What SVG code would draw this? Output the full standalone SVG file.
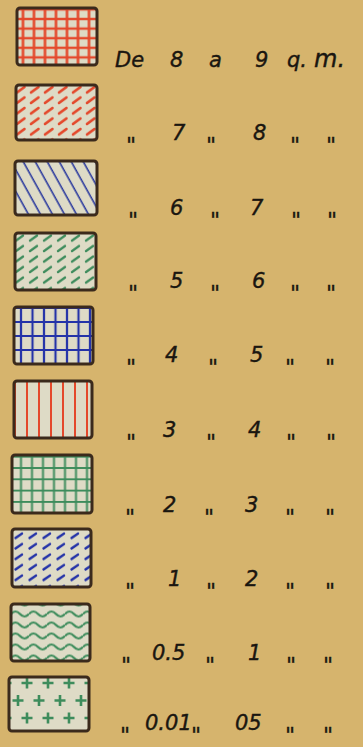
<svg xmlns="http://www.w3.org/2000/svg" width="363" height="747" viewBox="0 0 363 747">
<style>
.box{stroke:#3b2a1c;stroke-width:3}
.t{font-family:"DejaVu Sans","Liberation Sans",sans-serif;font-style:italic;font-size:21px;fill:#1a1610;stroke:#1a1610;stroke-width:0.4}
.d{font-family:"DejaVu Sans","Liberation Sans",sans-serif;font-style:italic;font-size:22px;fill:#1a1610;stroke:#1a1610;stroke-width:0.3}
</style>
<defs>
<pattern id="p1" patternUnits="userSpaceOnUse" x="17.5" y="14.2" width="11" height="9.6"><rect width="11" height="9.6" fill="#dedbc6"/><path d="M5.5 0V9.6M0 4.8H11" stroke="#e4492c" stroke-width="2.6"/></pattern>
<pattern id="p2" patternUnits="userSpaceOnUse" x="14" y="84" width="14" height="10.5"><rect width="14" height="10.5" fill="#dedbc6"/><path d="M3 8.5L10.5 3" stroke="#e4492c" stroke-width="2.6" stroke-linecap="round"/></pattern>
<pattern id="p3" patternUnits="userSpaceOnUse" width="10.5" height="10" patternTransform="rotate(-29)"><rect width="10.5" height="10" fill="#dedbc6"/><path d="M5 0V10" stroke="#2b3a9e" stroke-width="1.6"/></pattern>
<pattern id="p4" patternUnits="userSpaceOnUse" x="13" y="232" width="14" height="10.5"><rect width="14" height="10.5" fill="#dedbc6"/><path d="M3 8.5L10 3.5" stroke="#3d8c5c" stroke-width="2.4" stroke-linecap="round"/></pattern>
<pattern id="p5" patternUnits="userSpaceOnUse" x="15.25" y="315" width="11.5" height="14"><rect width="11.5" height="14" fill="#dedbc6"/><path d="M5.75 0V14M0 7H11.5" stroke="#2433a8" stroke-width="2.2"/></pattern>
<pattern id="p6" patternUnits="userSpaceOnUse" x="21" y="0" width="12" height="20"><rect width="12" height="20" fill="#dedbc6"/><path d="M6 0V20" stroke="#e4492c" stroke-width="2"/></pattern>
<pattern id="p7" patternUnits="userSpaceOnUse" x="15.5" y="462.35" width="11" height="11.3"><rect width="11" height="11.3" fill="#dedbc6"/><path d="M5.5 0V11.3M0 5.65H11" stroke="#3d8c5c" stroke-width="2"/></pattern>
<pattern id="p8" patternUnits="userSpaceOnUse" x="12" y="530" width="14" height="10.5"><rect width="14" height="10.5" fill="#dedbc6"/><path d="M3.5 8L10 3.5" stroke="#2433a8" stroke-width="2.4" stroke-linecap="round"/></pattern>
<pattern id="p9" patternUnits="userSpaceOnUse" x="11" y="608.5" width="18" height="11"><rect width="18" height="11" fill="#dedbc6"/><path d="M0 5.5Q4.5 0.5 9 5.5T18 5.5" fill="none" stroke="#3d8c5c" stroke-width="2.2"/></pattern>
<pattern id="p10" patternUnits="userSpaceOnUse" x="12" y="675" width="21" height="35"><rect width="21" height="35" fill="#dedbc6"/><path d="M15 2.5V13.5M9.5 8H20.5M6 20V31M0.5 25.5H11.5" stroke="#3d8c5c" stroke-width="2.6"/></pattern>
</defs>
<rect width="363" height="747" fill="#d6b46d"/>
<g id="n1"><rect class="box" x="17" y="8" width="80" height="57" rx="3" fill="url(#p1)"/>
<text class="t" y="67"><tspan x="115">De</tspan><tspan x="170">8</tspan><tspan x="209">a</tspan><tspan x="255">9</tspan><tspan x="287">q.</tspan><tspan x="314" font-size="24">m.</tspan></text></g>
<g id="n2"><rect class="box" x="16" y="85" width="81" height="55" rx="3" fill="url(#p2)"/>
<text class="t" y="140"><tspan x="172">7</tspan><tspan x="253">8</tspan></text>
<text class="d" y="153"><tspan x="126">"</tspan><tspan x="206">"</tspan><tspan x="290">"</tspan><tspan x="326">"</tspan></text></g>
<g id="n3"><rect class="box" x="15" y="161" width="82" height="54" rx="3" fill="url(#p3)"/>
<text class="t" y="215"><tspan x="170">6</tspan><tspan x="250">7</tspan></text>
<text class="d" y="228"><tspan x="128">"</tspan><tspan x="210">"</tspan><tspan x="291">"</tspan><tspan x="327">"</tspan></text></g>
<g id="n4"><rect class="box" x="15" y="233" width="81" height="57" rx="3" fill="url(#p4)"/>
<text class="t" y="288"><tspan x="170">5</tspan><tspan x="252">6</tspan></text>
<text class="d" y="301"><tspan x="128">"</tspan><tspan x="210">"</tspan><tspan x="290">"</tspan><tspan x="326">"</tspan></text></g>
<g id="n5"><rect class="box" x="14" y="307" width="79" height="57" rx="3" fill="url(#p5)"/>
<text class="t" y="362"><tspan x="165">4</tspan><tspan x="250">5</tspan></text>
<text class="d" y="375"><tspan x="126">"</tspan><tspan x="208">"</tspan><tspan x="285">"</tspan><tspan x="325">"</tspan></text></g>
<g id="n6"><rect class="box" x="14" y="381" width="78" height="57" rx="3" fill="url(#p6)"/>
<text class="t" y="437"><tspan x="163">3</tspan><tspan x="248">4</tspan></text>
<text class="d" y="450"><tspan x="126">"</tspan><tspan x="206">"</tspan><tspan x="286">"</tspan><tspan x="326">"</tspan></text></g>
<g id="n7"><rect class="box" x="12" y="455" width="80" height="58" rx="3" fill="url(#p7)"/>
<text class="t" y="512"><tspan x="163">2</tspan><tspan x="245">3</tspan></text>
<text class="d" y="525"><tspan x="125">"</tspan><tspan x="204">"</tspan><tspan x="285">"</tspan><tspan x="325">"</tspan></text></g>
<g id="n8"><rect class="box" x="12" y="529" width="79" height="58" rx="3" fill="url(#p8)"/>
<text class="t" y="586"><tspan x="168">1</tspan><tspan x="245">2</tspan></text>
<text class="d" y="599"><tspan x="125">"</tspan><tspan x="206">"</tspan><tspan x="285">"</tspan><tspan x="325">"</tspan></text></g>
<g id="n9"><rect class="box" x="11" y="604" width="79" height="57" rx="3" fill="url(#p9)"/>
<text class="t" y="660"><tspan x="152">0.5</tspan><tspan x="248">1</tspan></text>
<text class="d" y="673"><tspan x="121">"</tspan><tspan x="205">"</tspan><tspan x="286">"</tspan><tspan x="323">"</tspan></text></g>
<g id="n10"><rect class="box" x="9" y="677" width="80" height="54" rx="3" fill="url(#p10)"/>
<text class="t" y="730"><tspan x="145">0.01</tspan><tspan x="235">05</tspan></text>
<text class="d" y="743"><tspan x="120">"</tspan><tspan x="191">"</tspan><tspan x="285">"</tspan><tspan x="323">"</tspan></text></g>
<g id="connectors"/>
</svg>
